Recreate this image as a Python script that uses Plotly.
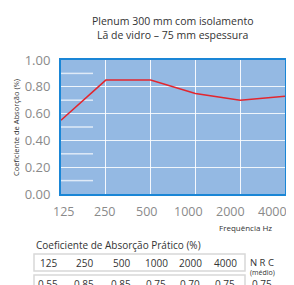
import plotly.graph_objects as go

freqs = ["125", "250", "500", "1000", "2000", "4000"]
curve_values = [0.55, 0.85, 0.85, 0.75, 0.70, 0.73]
table_values = ["0.55", "0.85", "0.85", "0.75", "0.70", "0.75"]
nrc_value = "0.75"
y_ticks = [0.0, 0.2, 0.4, 0.6, 0.8, 1.0]
short_marks = [0.1, 0.3, 0.5, 0.7, 0.9]

OFF = 8  # page body margin
W, H = 294, 285
L, R, T, B = 61, 9, 60, 91
PW, PH = W - L - R, H - T - B


def px(x):
    return (x - L) / PW


def py(y):
    return (H - B - y) / PH


FONT = "Open Sans"

fig = go.Figure()
fig.add_trace(go.Scatter(
    x=list(range(len(freqs))), y=curve_values, mode="lines",
    line=dict(color="#e3262e", width=1.5), hoverinfo="skip", showlegend=False,
))

fig.update_layout(
    width=W - OFF, height=H - OFF,
    margin=dict(l=L - OFF, r=R, t=T - OFF, b=B, autoexpand=False),
    paper_bgcolor="white", plot_bgcolor="#94b9e3",
    font=dict(family=FONT, color="#333333"),
    showlegend=False,
)
fig.update_xaxes(
    range=[0, len(freqs) - 1], tickvals=list(range(len(freqs))), showticklabels=False,
    showgrid=True, gridcolor="rgba(255,255,255,0.9)", gridwidth=1,
    showline=True, linecolor="#1a86d6", linewidth=2, mirror=True, zeroline=False,
    ticks="", fixedrange=True,
)
fig.update_yaxes(
    range=[0, 1], tickvals=y_ticks, ticktext=[f"{v:.2f}" for v in y_ticks],
    tickfont=dict(size=13, color="#8a8a8a", family=FONT),
    showgrid=True, gridcolor="rgba(255,255,255,0.85)", gridwidth=1,
    showline=True, linecolor="#1a86d6", linewidth=2, mirror=True, zeroline=False,
    ticks="", ticklabelstandoff=6, fixedrange=True,
)

shapes = []
for v in short_marks:
    shapes.append(dict(type="line", xref="paper", yref="y", x0=0, x1=px(93), y0=v, y1=v,
                       line=dict(color="rgba(255,255,255,0.7)", width=1.5), layer="below"))

annotations = []
annotations.append(dict(xref="paper", yref="paper", x=px(172), y=py(28), xanchor="center", yanchor="middle",
                        text="Plenum 300 mm com isolamento<br>Lã de vidro – 75 mm espessura",
                        showarrow=False, font=dict(size=10.5, color="#333333", family=FONT)))
annotations.append(dict(xref="paper", yref="paper", x=px(16), y=py(128), xanchor="center", yanchor="middle",
                        text="Coeficiente de Absorção (%)", textangle=-90,
                        showarrow=False, font=dict(size=7.5, color="#333333", family=FONT)))
for i, f in enumerate(freqs):
    xpos = 63 + i * (272 - 63) / (len(freqs) - 1)
    annotations.append(dict(xref="paper", yref="paper", x=px(xpos), y=py(211), xanchor="center", yanchor="middle",
                            text=f, showarrow=False, font=dict(size=12.5, color="#8a8a8a", family=FONT)))
annotations.append(dict(xref="paper", yref="paper", x=px(245), y=py(227), xanchor="center", yanchor="middle",
                        text="Frequência Hz", showarrow=False, font=dict(size=8, color="#333333", family=FONT)))
annotations.append(dict(xref="paper", yref="paper", x=px(34), y=py(245), xanchor="left", yanchor="middle",
                        text="Coeficiente de Absorção Prático (%)", showarrow=False,
                        font=dict(size=10, color="#333333", family=FONT)))
shapes.append(dict(type="rect", xref="paper", yref="paper", x0=px(34), x1=px(245), y0=py(254), y1=py(271),
                   line=dict(color="#d8d8d8", width=1.5), fillcolor="rgba(0,0,0,0)"))
shapes.append(dict(type="rect", xref="paper", yref="paper", x0=px(34), x1=px(245), y0=py(275), y1=py(292),
                   line=dict(color="#d8d8d8", width=1.5), fillcolor="rgba(0,0,0,0)"))
col_x = [48, 84, 121, 156, 190, 225]
for cx, f, v in zip(col_x, freqs, table_values):
    annotations.append(dict(xref="paper", yref="paper", x=px(cx), y=py(263), xanchor="center", yanchor="middle",
                            text=f, showarrow=False, font=dict(size=10, color="#333333", family=FONT)))
    annotations.append(dict(xref="paper", yref="paper", x=px(cx), y=py(284), xanchor="center", yanchor="middle",
                            text=v, showarrow=False, font=dict(size=10, color="#333333", family=FONT)))
annotations.append(dict(xref="paper", yref="paper", x=px(262), y=py(262), xanchor="center", yanchor="middle",
                        text="N R C", showarrow=False, font=dict(size=9.5, color="#333333", family=FONT)))
annotations.append(dict(xref="paper", yref="paper", x=px(262), y=py(272), xanchor="center", yanchor="middle",
                        text="(médio)", showarrow=False, font=dict(size=7, color="#333333", family=FONT)))
annotations.append(dict(xref="paper", yref="paper", x=px(262), y=py(284), xanchor="center", yanchor="middle",
                        text=nrc_value, showarrow=False, font=dict(size=10, color="#333333", family=FONT)))

fig.update_layout(shapes=shapes, annotations=annotations)
fig.write_html("out.html")
